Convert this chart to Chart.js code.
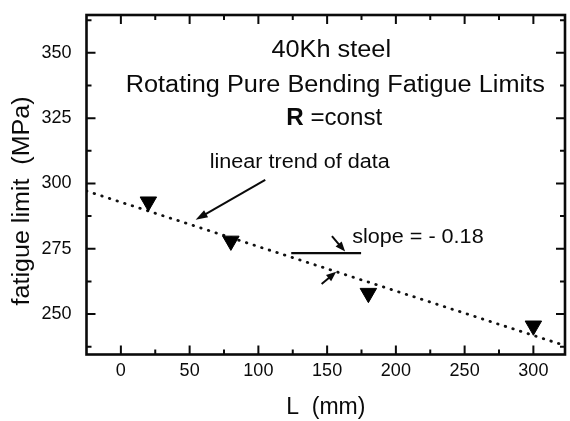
<!DOCTYPE html>
<html>
<head>
<meta charset="utf-8">
<script src="https://cdn.jsdelivr.net/npm/chart.js@4.4.1/dist/chart.umd.min.js"></script>
<style>
  body { margin: 0; background: #fff; }
</style>
</head>
<body>
<canvas id="fatigueChart" width="570" height="421"></canvas>
<script>
// fatigue limits
var lengths = [20, 80, 180, 300];        // L (mm)
var limits = [293, 278, 258, 245.5];     // fatigue limit (MPa)

// dotted linear trend, its two end points
var trendL = [-25, 323];
var trendLimit = [297.1, 237.9];

var xTicks = [0, 50, 100, 150, 200, 250, 300];
var xMinor = [25, 75, 125, 175, 225, 275];
var yTicks = [250, 275, 300, 325, 350];
var yMinor = [237.5, 262.5, 287.5, 312.5, 337.5, 362.5];

var FONT = '"Liberation Sans", Arial, Helvetica, sans-serif';
var INK = '#0a0a0a';

function drawText(ctx, text, x, y, font, sx, align, rot) {
    ctx.save();
    ctx.font = font;
    ctx.textBaseline = 'middle';
    ctx.textAlign = align || 'center';
    ctx.translate(x, y);
    if (rot) ctx.rotate(rot);
    ctx.scale(sx, 1);
    ctx.fillText(text, 0, 0);
    ctx.restore();
}

function drawArrow(ctx, x1, y1, x2, y2, head, halfW) {
    var a = Math.atan2(y2 - y1, x2 - x1);
    var c = Math.cos(a), s = Math.sin(a);
    ctx.beginPath();
    ctx.moveTo(x1, y1);
    ctx.lineTo(x2 - c * head * 0.7, y2 - s * head * 0.7);
    ctx.stroke();
    ctx.beginPath();
    ctx.moveTo(x2, y2);
    ctx.lineTo(x2 - c * head - s * halfW, y2 - s * head + c * halfW);
    ctx.lineTo(x2 - c * head + s * halfW, y2 - s * head - c * halfW);
    ctx.closePath();
    ctx.fill();
}

// frame with inward ticks on all four sides, plus the notes
var framePlugin = {
    id: 'frame',
    afterDatasetsDraw: function (chart) {
        var ctx = chart.ctx;
        var a = chart.chartArea;
        var xs = chart.scales.x, ys = chart.scales.y;
        var px = function (v) { return xs.getPixelForValue(v); };
        var py = function (v) { return ys.getPixelForValue(v); };

        ctx.save();
        ctx.strokeStyle = INK;
        ctx.fillStyle = INK;

        ctx.lineWidth = 2;
        ctx.beginPath();
        function tickX(v, len) {
            var p = px(v);
            ctx.moveTo(p, a.bottom); ctx.lineTo(p, a.bottom - len);
            ctx.moveTo(p, a.top); ctx.lineTo(p, a.top + len);
        }
        function tickY(v, len) {
            var p = py(v);
            ctx.moveTo(a.left, p); ctx.lineTo(a.left + len, p);
            ctx.moveTo(a.right, p); ctx.lineTo(a.right - len, p);
        }
        xTicks.forEach(function (v) { tickX(v, 9); });
        xMinor.forEach(function (v) { tickX(v, 5); });
        yTicks.forEach(function (v) { tickY(v, 9); });
        yMinor.forEach(function (v) { tickY(v, 5); });
        ctx.stroke();

        ctx.lineWidth = 2.6;
        ctx.strokeRect(a.left, a.top, a.right - a.left, a.bottom - a.top);

        // y axis title, sits a little below the middle in the original
        drawText(ctx, 'fatigue limit  (MPa)', ys.left + 23, py(293.3), '23px ' + FONT, 1.09, 'center', -Math.PI / 2);

        // titles inside the plot
        drawText(ctx, '40Kh steel', px(153), py(350.8), '23px ' + FONT, 1.1);
        drawText(ctx, 'Rotating Pure Bending Fatigue Limits', px(155.9), py(337.5), '23px ' + FONT, 1.1);
        ctx.save();
        ctx.font = 'bold 23px ' + FONT;
        var wR = ctx.measureText('R').width * 1.05;
        ctx.restore();
        drawText(ctx, 'R', px(120.3), py(324.8), 'bold 23px ' + FONT, 1.05, 'left');
        drawText(ctx, ' =const', px(120.3) + wR, py(324.8), '23px ' + FONT, 1.05, 'left');

        // trend note
        drawText(ctx, 'linear trend of data', px(64.6), py(307.9), '20px ' + FONT, 1.08, 'left');
        ctx.lineWidth = 2;
        drawArrow(ctx, px(105), py(301.4), px(54.4), py(286.1), 12, 4);

        // slope indicator
        drawText(ctx, 'slope = - 0.18', px(168.2), py(279.2), '20px ' + FONT, 1.08, 'left');
        ctx.lineWidth = 2.2;
        ctx.beginPath();
        ctx.moveTo(px(123.9), py(273.3));
        ctx.lineTo(px(174.7), py(273.3));
        ctx.stroke();
        ctx.lineWidth = 2;
        drawArrow(ctx, px(153.5), py(279.8), px(163.1), py(273.9), 10, 4);
        drawArrow(ctx, px(146), py(261.5), px(156.6), py(266.2), 10, 4);
        ctx.restore();
    }
};

var ctx = document.getElementById('fatigueChart').getContext('2d');
var chart = new Chart(ctx, {
    type: 'scatter',
    data: {
        datasets: [{
            label: 'fatigue limit',
            data: lengths.map(function (l, i) { return { x: l, y: limits[i] }; }),
            pointStyle: 'triangle',
            rotation: 180,
            pointRadius: 9.5,
            backgroundColor: '#000',
            borderColor: '#000',
            borderWidth: 1
        }, {
            label: 'linear trend',
            data: trendL.map(function (l, i) { return { x: l, y: trendLimit[i] }; }),
            showLine: true,
            pointRadius: 0,
            borderColor: '#111',
            borderWidth: 2.8,
            borderDash: [0.5, 7.5],
            borderCapStyle: 'round'
        }]
    },
    options: {
        responsive: false,
        animation: false,
        layout: {
            autoPadding: false,
            padding: { top: 15, right: 5, left: 0, bottom: 0 }
        },
        plugins: {
            legend: { display: false },
            tooltip: { enabled: false }
        },
        scales: {
            x: {
                type: 'linear',
                min: -25,
                max: 323,
                afterBuildTicks: function (s) { s.ticks = xTicks.map(function (v) { return { value: v }; }); },
                afterFit: function (s) {
                    s.height = 66.5;
                    s.paddingLeft = 0;
                    s.paddingRight = 0;
                },
                grid: { display: false, drawTicks: false },
                border: { display: false },
                ticks: { padding: 6, color: INK, font: { family: FONT, size: 18 } },
                title: {
                    display: true,
                    text: 'L  (mm)',
                    color: INK,
                    font: { family: FONT, size: 23 },
                    padding: { top: 0, bottom: 0 }
                }
            },
            y: {
                type: 'linear',
                min: 234.5,
                max: 364.5,
                afterBuildTicks: function (s) { s.ticks = yTicks.map(function (v) { return { value: v }; }); },
                afterFit: function (s) {
                    s.width = 86.5;
                    s.paddingTop = 0;
                    s.paddingBottom = 0;
                },
                grid: { display: false, drawTicks: false },
                border: { display: false },
                ticks: { padding: 15, color: INK, font: { family: FONT, size: 18 } }
            }
        }
    },
    plugins: [framePlugin]
});
</script>
</body>
</html>
